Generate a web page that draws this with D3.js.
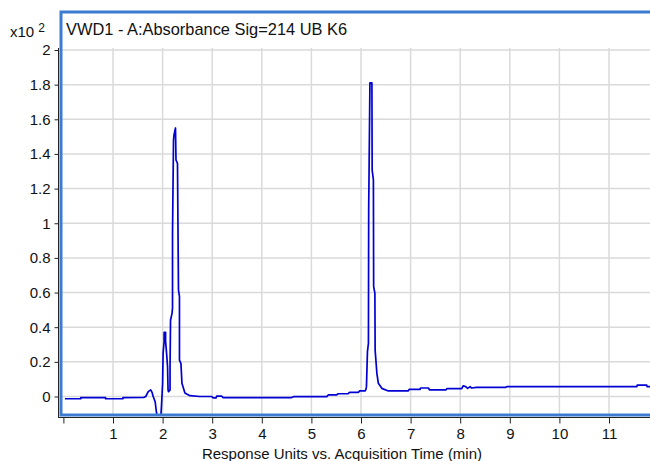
<!DOCTYPE html>
<html>
<head>
<meta charset="utf-8">
<script src="https://cdn.jsdelivr.net/npm/d3@7"></script>
<style>
  body { margin: 0; background: #fff; }
  svg { font-family: "Liberation Sans", Arial, sans-serif; }
</style>
</head>
<body>
<div class="chart"></div>
<script>
var svgWidth = 650;
var svgHeight = 461;

// chromatogram trace, response in units of x10^2
var times = [0.03, 0.35, 0.35, 0.85, 0.85, 1.20, 1.20, 1.62, 1.66, 1.71, 1.76, 1.79, 1.81, 1.85, 1.87, 1.88,
  1.90, 1.94, 1.96, 1.98, 2.00, 2.01, 2.03, 2.03, 2.06, 2.06, 2.08, 2.10, 2.11, 2.12, 2.15, 2.15, 2.16, 2.19,
  2.20, 2.20, 2.22, 2.23, 2.26, 2.27, 2.30, 2.32, 2.34, 2.34, 2.37, 2.39, 2.45, 2.55, 2.75, 2.99, 3.02, 3.08,
  3.09, 3.19, 3.22, 4.60, 4.64, 5.31, 5.34, 5.51, 5.54, 5.74, 5.77, 5.95, 5.97, 6.08, 6.10, 6.11, 6.13, 6.15,
  6.155, 6.18, 6.22, 6.225, 6.25, 6.255, 6.28, 6.285, 6.32, 6.35, 6.42, 6.55, 6.95, 6.97, 7.19, 7.20, 7.36,
  7.38, 7.71, 7.73, 8.03, 8.06, 8.11, 8.15, 8.20, 8.23, 8.33, 8.92, 8.94, 11.56, 11.57, 11.76, 11.77, 11.85];
var response = [-0.013, -0.013, -0.007, -0.007, -0.013, -0.013, -0.007, -0.005, 0.0, 0.028, 0.038, 0.022, 0.0,
  -0.03, -0.078, -0.097, -0.16, -0.17, -0.14, -0.04, 0.076, 0.25, 0.316, 0.37, 0.37, 0.32, 0.25, 0.172, 0.038,
  0.028, 0.038, 0.172, 0.44, 0.48, 0.51, 0.94, 1.48, 1.51, 1.55, 1.365, 1.346, 0.615, 0.576, 0.21, 0.19, 0.076,
  0.02, 0.005, 0.0, 0.0, -0.008, -0.008, 0.002, 0.002, -0.006, -0.006, -0.001, -0.001, 0.009, 0.009, 0.016,
  0.016, 0.024, 0.024, 0.032, 0.032, 0.041, 0.057, 0.259, 0.307, 1.076, 1.81, 1.81, 1.307, 1.25, 0.634, 0.596,
  0.268, 0.134, 0.076, 0.047, 0.032, 0.032, 0.041, 0.041, 0.049, 0.049, 0.038, 0.038, 0.045, 0.045, 0.062,
  0.057, 0.047, 0.057, 0.049, 0.053, 0.053, 0.057, 0.057, 0.066, 0.066, 0.057, 0.057];

var xTicks = [0, 1, 2, 3, 4, 5, 6, 7, 8, 9, 10, 11];
var yTicks = [0, 0.2, 0.4, 0.6, 0.8, 1, 1.2, 1.4, 1.6, 1.8, 2];

var trace = times.map((t, i) => ({ t: t, v: response[i] }));

var plot = { left: 61, right: 650, top: 48, bottom: 415 };

var svg = d3.select(".chart")
  .append("svg")
  .attr("width", svgWidth)
  .attr("height", svgHeight);

var xScale = d3.scaleLinear().domain([0, 12]).range([63.4, 63.4 + 12 * 49.6]);
var yScale = d3.scaleLinear().domain([0, 2]).range([396.5, 50]);

svg.append("clipPath").attr("id", "plotClip")
  .append("rect")
  .attr("x", plot.left).attr("y", plot.top)
  .attr("width", plot.right - plot.left).attr("height", plot.bottom - plot.top);

// gridlines
var grid = svg.append("g").attr("clip-path", "url(#plotClip)");
grid.selectAll("line.v")
  .data(xTicks.filter(d => d > 0))
  .enter().append("line")
  .attr("x1", d => xScale(d)).attr("x2", d => xScale(d))
  .attr("y1", plot.top).attr("y2", plot.bottom)
  .attr("stroke", "#dadada").attr("stroke-width", 1.5);
grid.selectAll("line.h")
  .data(yTicks)
  .enter().append("line")
  .attr("x1", plot.left).attr("x2", plot.right)
  .attr("y1", d => yScale(d)).attr("y2", d => yScale(d))
  .attr("stroke", "#dadada").attr("stroke-width", 1.5);

// the trace
var line = d3.line().x(d => xScale(d.t)).y(d => yScale(d.v));
svg.append("g").attr("clip-path", "url(#plotClip)")
  .append("path")
  .datum(trace)
  .attr("d", line)
  .attr("fill", "none")
  .attr("stroke", "#0000d4")
  .attr("stroke-width", 1.7)
  .attr("stroke-linejoin", "round");

// blue frame round the graph
svg.append("rect")
  .attr("x", 61).attr("y", 12)
  .attr("width", 620).attr("height", 403)
  .attr("fill", "none")
  .attr("stroke", "#3d7bd0")
  .attr("stroke-width", 3);

// axes
var leftAxis = d3.axisLeft(yScale).tickValues(yTicks).tickSize(4).tickPadding(4)
  .tickFormat(d => d3.format("")(d));
var gy = svg.append("g").attr("transform", "translate(58.5,0)").call(leftAxis);
gy.select(".domain").attr("d", `M0,${plot.top}V${plot.bottom + 3}`).attr("stroke", "#222");
gy.selectAll(".tick line").attr("stroke", "#222");
gy.selectAll("text").attr("font-size", 15).attr("fill", "#111")
  .attr("font-family", "Liberation Sans, Arial, sans-serif");

var bottomAxis = d3.axisBottom(xScale).tickValues(xTicks).tickSize(6).tickPadding(5)
  .tickFormat(d => d === 0 ? "" : d);
var gx = svg.append("g").attr("transform", "translate(0,417.5)").call(bottomAxis);
gx.select(".domain").attr("d", `M58,0H${plot.right}`).attr("stroke", "#222");
gx.selectAll(".tick line").attr("stroke", "#222");
gx.selectAll("text").attr("font-size", 15).attr("fill", "#111")
  .attr("font-family", "Liberation Sans, Arial, sans-serif");

// labels
svg.append("text")
  .attr("x", 66).attr("y", 35)
  .attr("font-size", 16.4).attr("fill", "#111")
  .text("VWD1 - A:Absorbance Sig=214 UB K6");

var mult = svg.append("text").attr("x", 10).attr("y", 37).attr("font-size", 15).attr("fill", "#111");
mult.append("tspan").text("x10 ");
mult.append("tspan").attr("font-size", 12).attr("dy", -5).text("2");

svg.append("text")
  .attr("x", 342).attr("y", 459)
  .attr("text-anchor", "middle")
  .attr("font-size", 15).attr("fill", "#111")
  .text("Response Units vs. Acquisition Time (min)");
</script>
</body>
</html>
